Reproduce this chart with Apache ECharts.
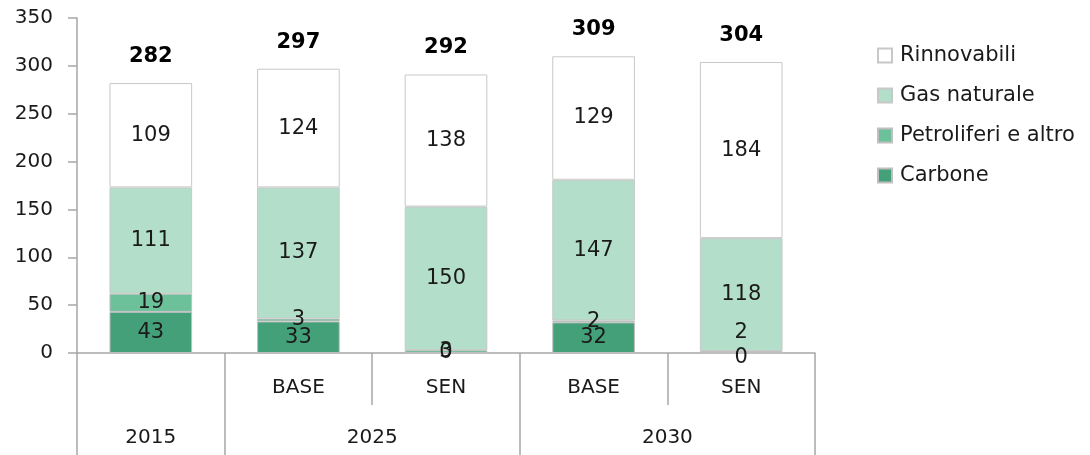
<!DOCTYPE html>
<html><head><meta charset="utf-8">
<script src="https://cdn.jsdelivr.net/npm/echarts@6/dist/echarts.min.js"></script>
<style>html,body{margin:0;padding:0;background:#fff}#c{width:1090px;height:455px}</style>
</head><body><div id="c"></div>
<script>
const scenarios = ['', 'BASE', 'SEN', 'BASE', 'SEN'];
const yearGroups = ['2015', '2025', '2030'];
const yearGroupSpans = [1, 2, 2];
const carbone = [43, 33, 0, 32, 0];
const petroliferi = [19, 3, 3, 2, 2];
const gas = [111, 137, 150, 147, 118];
const rinnovabili = [109, 124, 138, 129, 184];
const totals = [282, 297, 292, 309, 304];
const yTicks = [0, 50, 100, 150, 200, 250, 300, 350];

const FONT = 'DejaVu Sans';
const TXT = '#1a1a1a';
const AX = '#a6a6a6';

const bounds = [0]; yearGroupSpans.forEach(s => bounds.push(bounds[bounds.length-1] + s));
const centers = yearGroupSpans.map((s, i) => bounds[i] + s / 2);

function seg(name, data, color, border, labelAdj) {
  return {
    name, type: 'bar', stack: 'tot', barWidth: '56%', xAxisIndex: 0,
    data: data.map((v, i) => {
      const o = { value: v };
      if (labelAdj && labelAdj[i]) o.label = { offset: labelAdj[i] };
      return o;
    }),
    itemStyle: { color, borderColor: border, borderWidth: 1 },
    label: { show: true, position: 'inside', color: TXT, fontFamily: FONT, fontSize: 21 },
    emphasis: { disabled: true }
  };
}

const chart = echarts.init(document.getElementById('c'), null, { renderer: 'canvas' });
chart.setOption({
  animation: false,
  textStyle: { fontFamily: FONT },
  grid: { left: 77, right: 275, top: 18, bottom: 102, containLabel: false },
  legend: {
    orient: 'vertical', left: 872, top: 40, itemGap: 19, itemWidth: 14, itemHeight: 14,
    icon: 'rect',
    data: ['Rinnovabili', 'Gas naturale', 'Petroliferi e altro', 'Carbone'],
    textStyle: { fontFamily: FONT, fontSize: 21, color: TXT, padding: [0, 0, 0, 3] }
  },
  xAxis: [
    {
      type: 'category', data: scenarios, position: 'bottom',
      axisLine: { show: true, lineStyle: { color: AX, width: 1.5 } },
      axisTick: { show: true, length: 52, alignWithLabel: false, lineStyle: { color: AX, width: 1.5 } },
      axisLabel: { color: TXT, fontFamily: FONT, fontSize: 20, margin: 25, interval: 0 }
    },
    {
      type: 'value', min: 0, max: bounds[bounds.length-1], position: 'bottom',
      axisLine: { show: false }, splitLine: { show: false },
      axisTick: { show: true, length: 102, customValues: bounds, lineStyle: { color: AX, width: 1.5 } },
      axisLabel: {
        show: true, customValues: centers, margin: 75, color: TXT, fontFamily: FONT, fontSize: 20,
        formatter: v => { const i = centers.indexOf(v); return i >= 0 ? yearGroups[i] : ''; }
      }
    }
  ],
  yAxis: {
    type: 'value', min: 0, max: 350, interval: 50,
    axisLine: { show: true, lineStyle: { color: AX, width: 1.5 } },
    axisTick: { show: true, length: 9, lineStyle: { color: AX, width: 1.5 } },
    splitLine: { show: false },
    axisLabel: { color: TXT, fontFamily: FONT, fontSize: 20, margin: 24,
      formatter: v => yTicks.includes(v) ? String(v) : '' }
  },
  series: [
    seg('Carbone', carbone, '#43a078', '#bfbfbf', [null, null, null, null, [0, 5]]),
    seg('Petroliferi e altro', petroliferi, '#6cc19a', '#bfbfbf', [null, null, null, null, [0, -19]]),
    seg('Gas naturale', gas, '#b3dfca', '#c8c8c8'),
    seg('Rinnovabili', rinnovabili, '#ffffff', '#c8c8c8'),
    {
      name: 'Totale', type: 'bar', stack: 'tot', barWidth: '56%',
      data: totals.map(() => 0),
      itemStyle: { color: 'transparent' },
      label: { show: true, position: 'top', distance: 16, color: '#000', fontWeight: 'bold',
        fontFamily: FONT, fontSize: 21, formatter: p => String(totals[p.dataIndex]) },
      emphasis: { disabled: true }
    }
  ]
});
</script></body></html>
